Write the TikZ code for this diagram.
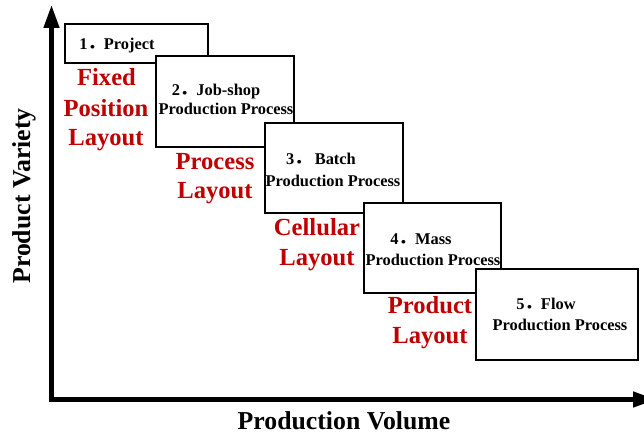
\documentclass[tikz,border=0pt]{standalone}
\usepackage{fontspec}
\setmainfont{Liberation Serif}
\newfontfamily\cjkfont{Noto Sans CJK SC}
\usetikzlibrary{arrows.meta}
\pgfdeclarelayer{nodelayer}
\pgfdeclarelayer{edgelayer}
\pgfsetlayers{edgelayer,nodelayer,main}
\definecolor{layoutred}{RGB}{192,0,0}
\tikzstyle{none}=[inner sep=0pt]
\tikzset{stage/.style={draw=black, fill=white, line width=1.5pt}}
\tikzset{axis/.style={line width=3.8pt, line join=miter,
  {Triangle[length=19.6pt,width=12.8pt]}-{Triangle[length=19.6pt,width=12.8pt]}}}
\tikzset{stagetext/.style={inner sep=0pt, anchor=base,
  font=\bfseries\fontsize{14}{16}\selectfont}}
\tikzset{layouttext/.style={inner sep=0pt, anchor=base, text=layoutred,
  font=\bfseries\fontsize{21}{25}\selectfont}}
\tikzset{axislabel/.style={inner sep=0pt,
  font=\bfseries\fontsize{22}{26}\selectfont}}
\newcommand{\fdot}{{\cjkfont ．}}

\begin{document}
\begin{tikzpicture}[x=0.03cm, y=-0.03cm]
	\useasboundingbox (0,0) rectangle (644,434);
	\begin{pgfonlayer}{nodelayer}
		\node [style=none] (0) at (51.5, 399.5) {};
		\node [style=none] (1) at (51.5, 5) {};
		\node [style=none] (2) at (656, 399.5) {};
		\node [style=none] (3) at (65, 24) {};
		\node [style=none] (4) at (208, 63) {};
		\node [style=none] (5) at (156, 56) {};
		\node [style=none] (6) at (294, 147) {};
		\node [style=none] (7) at (265, 123) {};
		\node [style=none] (8) at (403, 213) {};
		\node [style=none] (9) at (364, 203) {};
		\node [style=none] (10) at (501, 293) {};
		\node [style=none] (11) at (476, 269) {};
		\node [style=none] (12) at (638, 360) {};
		\node [style=stagetext] (13) at (117, 49) {1\fdot Project};
		\node [style=stagetext] (14) at (216, 95) {2\fdot Job-shop};
		\node [style=stagetext] (15) at (226, 114) {Production Process};
		\node [style=stagetext] (16) at (321, 164) {3\fdot\ Batch};
		\node [style=stagetext] (17) at (333, 186) {Production Process};
		\node [style=stagetext] (18) at (421, 244) {4\fdot Mass};
		\node [style=stagetext] (19) at (433, 265) {Production Process};
		\node [style=stagetext] (20) at (546, 309) {5\fdot Flow};
		\node [style=stagetext] (21) at (560, 330) {Production Process};
		\node [style=layouttext] (22) at (106.5, 85) {Fixed};
		\node [style=layouttext] (23) at (106, 116) {Position};
		\node [style=layouttext] (24) at (106, 145) {Layout};
		\node [style=layouttext] (25) at (215, 169) {Process};
		\node [style=layouttext] (26) at (215, 198) {Layout};
		\node [style=layouttext] (27) at (317, 235) {Cellular};
		\node [style=layouttext] (28) at (317, 265) {Layout};
		\node [style=layouttext] (29) at (430, 313) {Product};
		\node [style=layouttext] (30) at (430, 343) {Layout};
		\node [style=axislabel, rotate=90] (31) at (24, 196) {Product Variety};
		\node [style=axislabel, anchor=base] (32) at (344, 429) {Production Volume};
	\end{pgfonlayer}
	\begin{pgfonlayer}{edgelayer}
		\draw [style=axis] (1.center) to (0.center) to (2.center);
		\draw [style=stage] (3.center) rectangle (4.center);
		\draw [style=stage] (5.center) rectangle (6.center);
		\draw [style=stage] (7.center) rectangle (8.center);
		\draw [style=stage] (9.center) rectangle (10.center);
		\draw [style=stage] (11.center) rectangle (12.center);
	\end{pgfonlayer}
\end{tikzpicture}
\end{document}
